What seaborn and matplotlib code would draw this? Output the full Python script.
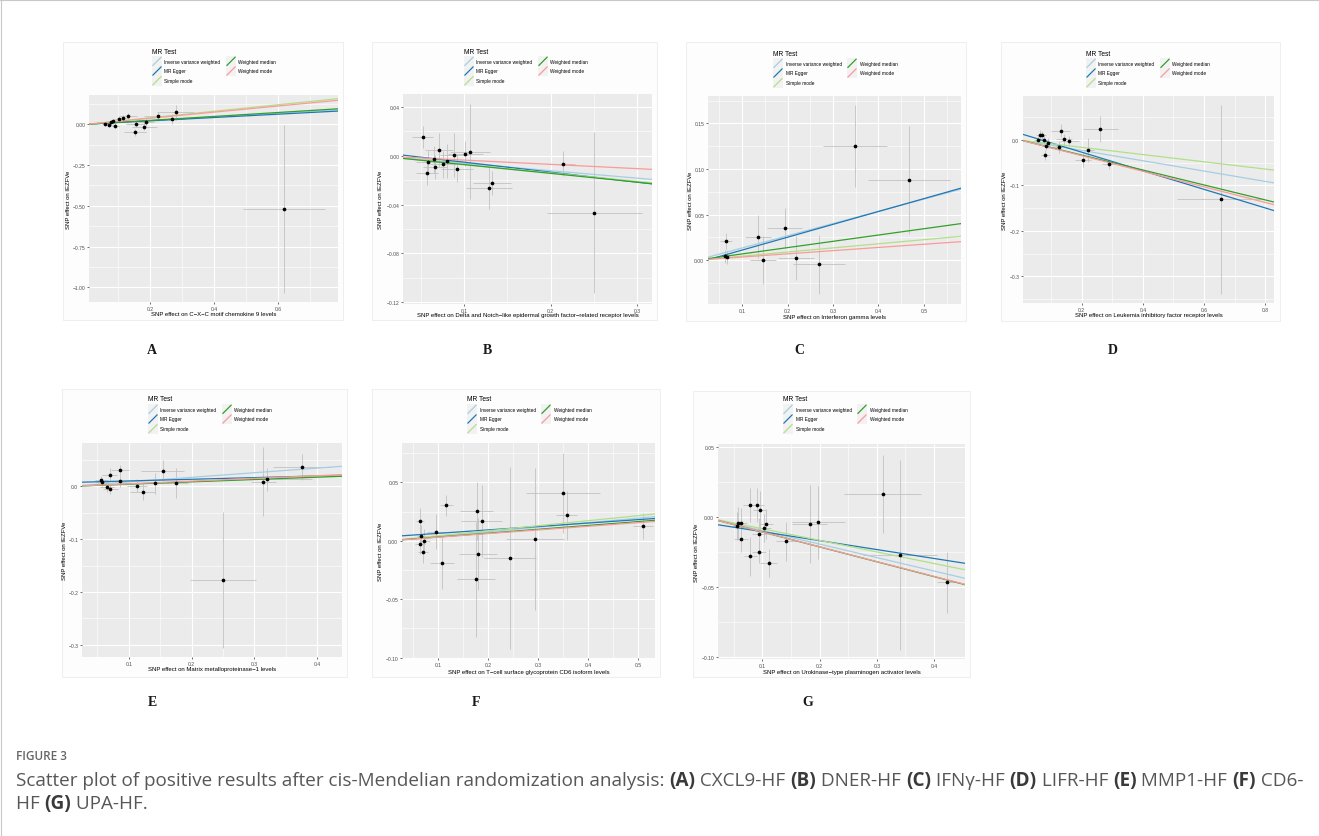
import numpy as np
import pandas as pd
import matplotlib
matplotlib.use("Agg")
import matplotlib.pyplot as plt
import seaborn as sns
from matplotlib.patches import Rectangle
from matplotlib.lines import Line2D

W, H = 1319, 837

# ---------------- data ----------------
methods = ["Inverse variance weighted", "MR Egger", "Simple mode", "Weighted median", "Weighted mode"]
method_colors = ["#a6cee3", "#1f78b4", "#b2df8a", "#33a02c", "#fb9a99"]
y_title = "SNP effect on IEZFVe"

# Panel A : CXCL9
A_bx = [0.058, 0.073, 0.079, 0.085, 0.092, 0.102, 0.116, 0.132, 0.156, 0.154, 0.182, 0.188, 0.225, 0.270, 0.281, 0.620]
A_by = [0.004, -0.006, 0.012, 0.018, -0.008, 0.031, 0.037, 0.049, 0.002, -0.049, -0.014, 0.016, 0.049, 0.031, 0.073, -0.520]
A_sx = [0.008, 0.010, 0.010, 0.012, 0.012, 0.015, 0.018, 0.028, 0.030, 0.034, 0.039, 0.025, 0.044, 0.040, 0.058, 0.128]
A_sy = [0.012, 0.012, 0.014, 0.015, 0.016, 0.018, 0.020, 0.022, 0.020, 0.020, 0.022, 0.025, 0.026, 0.030, 0.045, 0.515]
A_icpt = [0.0, 0.001, 0.0, 0.0, 0.0]
A_slope = [0.114, 0.102, 0.200, 0.121, 0.187]
A_xlab = "SNP effect on C\u2212X\u2212C motif chemokine 9 levels"

# Panel B : DNER
B_bx = [0.0523, 0.0573, 0.0588, 0.065, 0.0662, 0.0715, 0.0754, 0.0804, 0.0881, 0.092, 0.1015, 0.1069, 0.1288, 0.1327, 0.2146, 0.2504]
B_by = [0.0156, -0.0137, -0.0052, -0.003, -0.0093, 0.0049, -0.0071, -0.0041, 0.0008, -0.0104, 0.0019, 0.0033, -0.0265, -0.0221, -0.0063, -0.0467]
B_sx = [0.012, 0.013, 0.014, 0.012, 0.014, 0.016, 0.015, 0.017, 0.016, 0.018, 0.020, 0.023, 0.027, 0.022, 0.013, 0.055]
B_sy = [0.009, 0.010, 0.010, 0.011, 0.010, 0.014, 0.011, 0.014, 0.018, 0.011, 0.010, 0.039, 0.017, 0.010, 0.010, 0.066]
B_icpt = [0.0, 0.003, 0.0, 0.0, 0.0]
B_slope = [-0.061, -0.082, -0.070, -0.072, -0.035]
B_xlab = "SNP effect on Delta and Notch\u2212like epidermal growth factor\u2212related receptor levels"

# Panel C : IFN-gamma
C_bx = [0.0647, 0.0632, 0.0669, 0.1353, 0.1463, 0.1934, 0.2184, 0.2684, 0.3485, 0.4669]
C_by = [0.0208, 0.0044, 0.0036, 0.0259, 0.0, 0.035, 0.0026, -0.0047, 0.1255, 0.0876]
C_sx = [0.013, 0.008, 0.008, 0.028, 0.029, 0.038, 0.040, 0.057, 0.071, 0.090]
C_sy = [0.009, 0.007, 0.008, 0.024, 0.026, 0.022, 0.024, 0.032, 0.045, 0.059]
C_icpt = [0.0, -0.003, 0.0, 0.0, 0.0]
C_slope = [0.134, 0.141, 0.045, 0.069, 0.035]
C_xlab = "SNP effect on Interferon gamma levels"

# Panel D : LIFR
D_bx = [0.0571, 0.0637, 0.0703, 0.0791, 0.0813, 0.0835, 0.0912, 0.1275, 0.1319, 0.1429, 0.1604, 0.2044, 0.2209, 0.2615, 0.2901, 0.6538]
D_by = [0.0007, 0.0118, 0.0103, 0.0, -0.0324, -0.0125, -0.0066, -0.0154, 0.0206, 0.0015, -0.0015, -0.0441, -0.0221, 0.0243, -0.0529, -0.1301]
D_sx = [0.012, 0.012, 0.013, 0.014, 0.015, 0.014, 0.016, 0.020, 0.030, 0.025, 0.030, 0.027, 0.020, 0.057, 0.022, 0.141]
D_sy = [0.008, 0.010, 0.009, 0.010, 0.011, 0.010, 0.012, 0.014, 0.015, 0.012, 0.010, 0.016, 0.026, 0.029, 0.012, 0.208]
D_icpt = [0.0, 0.0143, 0.0, 0.0, 0.0]
D_slope = [-0.114, -0.205, -0.080, -0.165, -0.172]
D_xlab = "SNP effect on Leukemia inhibitory factor receptor levels"

# Panel E : MMP1
E_bx = [0.0563, 0.0579, 0.0648, 0.0696, 0.0702, 0.0856, 0.0856, 0.1133, 0.1224, 0.141, 0.1538, 0.1751, 0.2502, 0.3147, 0.3206, 0.376]
E_by = [0.012, 0.0089, -0.0013, 0.0222, -0.0038, 0.031, 0.0101, 0.0013, -0.0101, 0.0063, 0.0297, 0.0063, -0.1772, 0.0089, 0.0133, 0.0373]
E_sx = [0.010, 0.010, 0.011, 0.012, 0.012, 0.014, 0.016, 0.016, 0.020, 0.025, 0.034, 0.020, 0.052, 0.020, 0.072, 0.046]
E_sy = [0.008, 0.008, 0.009, 0.012, 0.010, 0.010, 0.012, 0.012, 0.016, 0.020, 0.020, 0.029, 0.128, 0.065, 0.021, 0.025]
E_icpt = [0.0, 0.0074, 0.0, 0.0, 0.0]
E_slope = [0.087, 0.0314, 0.047, 0.044, 0.051]
E_xlab = "SNP effect on Matrix metalloproteinase\u22121 levels"

# Panel F : CD6
F_bx = [0.0647, 0.066, 0.0647, 0.0693, 0.072, 0.096, 0.1087, 0.1167, 0.1773, 0.1867, 0.18, 0.176, 0.2433, 0.2927, 0.3493, 0.3567, 0.509]
F_by = [0.0174, 0.0043, -0.0031, -0.0097, 0.0, 0.0077, -0.0189, 0.0306, 0.0254, 0.0169, -0.0111, -0.0329, -0.0149, 0.0017, 0.0409, 0.022, 0.0125]
F_sx = [0.008, 0.009, 0.010, 0.010, 0.011, 0.019, 0.024, 0.013, 0.033, 0.040, 0.038, 0.038, 0.052, 0.058, 0.073, 0.021, 0.020]
F_sy = [0.011, 0.009, 0.008, 0.009, 0.010, 0.015, 0.022, 0.009, 0.025, 0.031, 0.031, 0.049, 0.078, 0.061, 0.034, 0.021, 0.011]
F_icpt = [0.0, 0.0035, 0.0, 0.0, 0.0]
F_slope = [0.039, 0.0294, 0.0432, 0.0331, 0.0312]
F_xlab = "SNP effect on T\u2212cell surface glycoprotein CD6 isoform levels"

# Panel G : uPA
G_bx = [0.0558, 0.0576, 0.0634, 0.0634, 0.0791, 0.0791, 0.0913, 0.0953, 0.0948, 0.0948, 0.1029, 0.1064, 0.111, 0.1413, 0.1826, 0.1977, 0.3105, 0.3401, 0.4233]
G_by = [-0.0064, -0.0045, -0.0045, -0.016, 0.0088, -0.0279, 0.0088, 0.0048, -0.0124, -0.0246, -0.0079, -0.0048, -0.0327, -0.0172, -0.0048, -0.0038, 0.0167, -0.027, -0.0466]
G_sx = [0.008, 0.009, 0.010, 0.012, 0.012, 0.011, 0.011, 0.012, 0.013, 0.012, 0.012, 0.012, 0.015, 0.018, 0.030, 0.046, 0.067, 0.065, 0.018]
G_sy = [0.010, 0.012, 0.011, 0.009, 0.012, 0.014, 0.012, 0.014, 0.012, 0.008, 0.010, 0.011, 0.010, 0.014, 0.028, 0.026, 0.028, 0.068, 0.022]
G_icpt = [0.0, -0.004, 0.0, 0.0, 0.0]
G_slope = [-0.0965, -0.064, -0.083, -0.1065, -0.106]
G_xlab = "SNP effect on Urokinase\u2212type plasminogen activator levels"

caption_title = "FIGURE 3"
caption_line1 = [("Scatter plot of positive results after cis-Mendelian randomization analysis: ", False),
                 ("(A)", True), (" CXCL9-HF ", False), ("(B)", True), (" DNER-HF ", False),
                 ("(C)", True), (" IFN\u03b3-HF ", False), ("(D)", True), (" LIFR-HF ", False),
                 ("(E)", True), (" MMP1-HF ", False), ("(F)", True), (" CD6-", False)]
caption_line2 = [("HF ", False), ("(G)", True), (" UPA-HF.", False)]

# ---------------- layout (pixels) ----------------
layout = {
    "A": dict(data=(A_bx, A_by, A_sx, A_sy, A_icpt, A_slope, A_xlab),
              box=(89, 96, 338, 303), xlim=(0.0094, 0.788), ylim=(-1.09, 0.18),
              xt=[0.2, 0.4, 0.6], xm=[0.1, 0.3, 0.5, 0.7],
              yt=[-1.0, -0.75, -0.5, -0.25, 0.0], ym=[-0.875, -0.625, -0.375, -0.125, 0.125], yf="{:.2f}",
              frame=(63, 43, 343, 321), leg=(152, 52), lab=(152, 350), ylx=68, xly=315),
    "B": dict(data=(B_bx, B_by, B_sx, B_sy, B_icpt, B_slope, B_xlab),
              box=(403, 95, 652, 305), xlim=(0.0296, 0.317), ylim=(-0.1215, 0.0507),
              xt=[0.1, 0.2, 0.3], xm=[0.05, 0.15, 0.25],
              yt=[-0.12, -0.08, -0.04, 0.0, 0.04], ym=[-0.1, -0.06, -0.02, 0.02], yf="{:.2f}",
              frame=(372, 43, 657, 321), leg=(464, 52), lab=(487, 350), ylx=381, xly=316),
    "C": dict(data=(C_bx, C_by, C_sx, C_sy, C_icpt, C_slope, C_xlab),
              box=(708, 97, 961, 305), xlim=(0.025, 0.5816), ylim=(-0.048, 0.18),
              xt=[0.1, 0.2, 0.3, 0.4, 0.5], xm=[0.05, 0.15, 0.25, 0.35, 0.45, 0.55],
              yt=[0.0, 0.05, 0.10, 0.15], ym=[-0.025, 0.025, 0.075, 0.125, 0.175], yf="{:.2f}",
              frame=(686, 43, 966, 322), leg=(773, 54), lab=(799, 350), ylx=691, xly=317),
    "D": dict(data=(D_bx, D_by, D_sx, D_sy, D_icpt, D_slope, D_xlab),
              box=(1023, 97, 1274, 304), xlim=(0.009, 0.828), ylim=(-0.359, 0.097),
              xt=[0.2, 0.4, 0.6, 0.8], xm=[0.1, 0.3, 0.5, 0.7],
              yt=[-0.3, -0.2, -0.1, 0.0], ym=[-0.35, -0.25, -0.15, -0.05, 0.05], yf="{:.1f}",
              frame=(1001, 43, 1280, 322), leg=(1086, 54), lab=(1113, 350), ylx=1005, xly=316),
    "E": dict(data=(E_bx, E_by, E_sx, E_sy, E_icpt, E_slope, E_xlab),
              box=(82, 444, 342, 658), xlim=(0.0253, 0.44), ylim=(-0.323, 0.0824),
              xt=[0.1, 0.2, 0.3, 0.4], xm=[0.05, 0.15, 0.25, 0.35],
              yt=[-0.3, -0.2, -0.1, 0.0], ym=[-0.25, -0.15, -0.05, 0.05], yf="{:.1f}",
              frame=(62, 390, 347, 678), leg=(148, 400), lab=(152, 703), ylx=65, xly=670),
    "F": dict(data=(F_bx, F_by, F_sx, F_sy, F_icpt, F_slope, F_xlab),
              box=(402, 444, 655, 659), xlim=(0.028, 0.533), ylim=(-0.1003, 0.0838),
              xt=[0.1, 0.2, 0.3, 0.4, 0.5], xm=[0.05, 0.15, 0.25, 0.35, 0.45],
              yt=[-0.10, -0.05, 0.0, 0.05], ym=[-0.075, -0.025, 0.025, 0.075], yf="{:.2f}",
              frame=(372, 390, 660, 678), leg=(467, 400), lab=(476, 703), ylx=380, xly=673),
    "G": dict(data=(G_bx, G_by, G_sx, G_sy, G_icpt, G_slope, G_xlab),
              box=(718, 445, 965, 660), xlim=(0.0227, 0.454), ylim=(-0.1016, 0.0524),
              xt=[0.1, 0.2, 0.3, 0.4], xm=[0.05, 0.15, 0.25, 0.35],
              yt=[-0.10, -0.05, 0.0, 0.05], ym=[-0.075, -0.025, 0.025], yf="{:.2f}",
              frame=(693, 392, 970, 678), leg=(783, 400), lab=(808, 703), ylx=697, xly=673),
}

# ---------------- drawing ----------------
sns.set_theme(style="darkgrid")
plt.rcParams['font.family'] = ['Liberation Sans', 'DejaVu Sans']
plt.rcParams['axes.unicode_minus'] = True

fig = plt.figure(figsize=(W / 100, H / 100), dpi=100)
fig.patch.set_facecolor("white")


def fx(x):
    return x / W


def fy(y):
    return 1 - y / H


def minus(s):
    return s.replace("-", "\u2212")


# article frame lines (left and top)
fig.add_artist(Line2D([fx(0.8), fx(0.8)], [0, 1], color="#c8c8c8", lw=0.8, transform=fig.transFigure))
fig.add_artist(Line2D([0, 1], [fy(0.8), fy(0.8)], color="#c8c8c8", lw=0.8, transform=fig.transFigure))

TICK_FS = 3.6
TITLE_FS = 4.3
LEG_FS = 3.4

for key, cfg in layout.items():
    bx, by, sx, sy, icpt, slope, xlab = cfg["data"]
    # panel image frame
    l, t, r, b = cfg["frame"]
    fig.add_artist(Rectangle((fx(l), fy(b)), (r - l) / W, (b - t) / H, transform=fig.transFigure,
                             facecolor="#fdfdfd", edgecolor="#ececec", lw=0.6, zorder=0))
    l, t, r, b = cfg["box"]
    ax = fig.add_axes([fx(l), fy(b), (r - l) / W, (b - t) / H])
    ax.set_facecolor("#EBEBEB")
    for s in ax.spines.values():
        s.set_visible(False)

    df = pd.DataFrame({"bx": bx, "by": by, "sx": sx, "sy": sy})
    ax.errorbar(df["bx"], df["by"], xerr=df["sx"], yerr=df["sy"], fmt="none",
                ecolor="#c2c2c2", elinewidth=0.6, capsize=0, zorder=2)
    for m, c, a0, b1 in zip(methods, method_colors, icpt, slope):
        ax.axline((0, a0), slope=b1, color=c, lw=0.9, zorder=3)
    sns.scatterplot(data=df, x="bx", y="by", ax=ax, color="black", s=7, linewidth=0, zorder=4, legend=False)

    ax.set_xlim(*cfg["xlim"])
    ax.set_ylim(*cfg["ylim"])
    ax.set_xticks(cfg["xt"])
    ax.set_xticklabels([("{:.1f}".format(v)) for v in cfg["xt"]])
    ax.set_yticks(cfg["yt"])
    ax.set_yticklabels([minus(cfg["yf"].format(v)) for v in cfg["yt"]])
    ax.set_xticks(cfg["xm"], minor=True)
    ax.set_yticks(cfg["ym"], minor=True)
    ax.grid(which="major", color="white", lw=0.8)
    ax.grid(which="minor", color="white", lw=0.4)
    ax.tick_params(which="major", length=1.5, width=0.5, color="#333333", labelsize=TICK_FS,
                   labelcolor="#4d4d4d", pad=1.2, bottom=True, left=True)
    ax.tick_params(which="minor", length=0)
    ax.set_xlabel(xlab, fontsize=TITLE_FS, color="black")
    ax.set_ylabel(y_title, fontsize=TITLE_FS, color="black")
    ax.xaxis.set_label_coords(0.5, (b - cfg["xly"]) / (b - t))
    ax.yaxis.set_label_coords((cfg["ylx"] - l) / (r - l), 0.5)
    ax.xaxis.label.set_va("center")
    ax.yaxis.label.set_va("center")

    # legend (ggplot style, 2 columns)
    lx, ly = cfg["leg"]
    fig.text(fx(lx), fy(ly), "MR Test", fontsize=4.8, color="black", ha="left", va="center")
    rows = [ly + 10.3, ly + 20.0, ly + 29.7]
    cols = [lx, lx + 74]
    slots = [(0, 0), (0, 1), (0, 2), (1, 0), (1, 1)]
    for m, c, (ci, ri) in zip(methods, method_colors, slots):
        kx, ky = cols[ci], rows[ri]
        fig.add_artist(Rectangle((fx(kx), fy(ky + 4.85)), 10 / W, 9.7 / H, transform=fig.transFigure,
                                 facecolor="#F2F2F2", edgecolor="none", zorder=1))
        fig.add_artist(Line2D([fx(kx + 0.8), fx(kx + 9.2)], [fy(ky + 4.2), fy(ky - 4.2)],
                              transform=fig.transFigure, color=c, lw=0.9, zorder=2))
        fig.text(fx(kx + 12.5), fy(ky), m, fontsize=LEG_FS, color="black", ha="left", va="center")

    # panel letter
    px, py = cfg["lab"]
    fig.text(fx(px), fy(py), key, fontsize=10, fontweight="bold", family=["Liberation Serif", "DejaVu Serif"],
             color="#1a1a1a", ha="center", va="center")

# ---------------- caption ----------------
renderer = fig.canvas.get_renderer()
CAP_FONT = ["Open Sans", "DejaVu Sans"]


def advance(txt, bold, size):
    t1 = fig.text(0, 0, txt + "|", fontsize=size, fontweight="bold" if bold else "normal", family=CAP_FONT)
    t2 = fig.text(0, 0, "|", fontsize=size, fontweight="bold" if bold else "normal", family=CAP_FONT)
    w = t1.get_window_extent(renderer).width - t2.get_window_extent(renderer).width
    t1.remove()
    t2.remove()
    return w


base = 12.0
total = sum(advance(s, bb, base) for s, bb in caption_line1)
cap_size = base * 1279.0 / total


def rich_line(x0, y0, segs, size):
    x = x0
    for s, bb in segs:
        fig.text(fx(x), fy(y0), s, fontsize=size, fontweight="bold" if bb else "normal", family=CAP_FONT,
                 color="#3a3a3a" if bb else "#575757", ha="left", va="center")
        x += advance(s, bb, size)


fig.text(fx(16), fy(757), caption_title, fontsize=8.5, fontweight="semibold", family=CAP_FONT,
         color="#666666", ha="left", va="center")
rich_line(16, 781, caption_line1, cap_size)
rich_line(16, 804, caption_line2, cap_size)

fig.savefig("out.png", dpi=100, facecolor="white")
